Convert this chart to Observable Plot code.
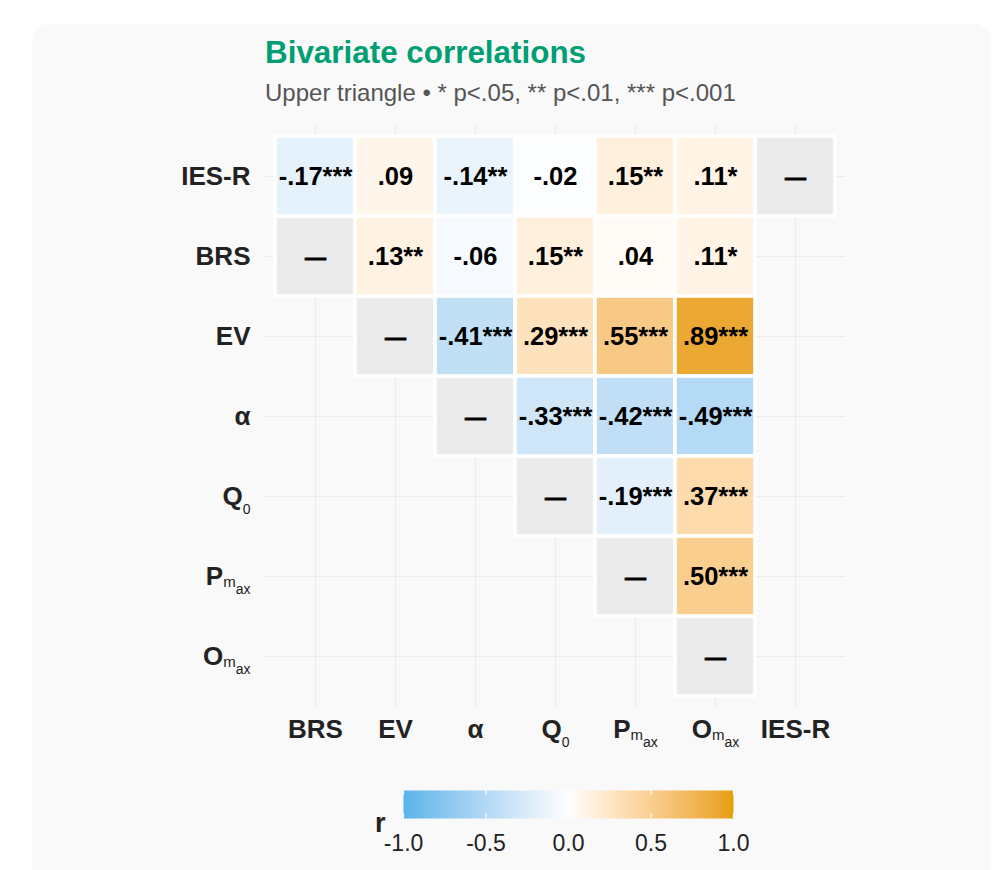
<!DOCTYPE html>
<html><head><meta charset="utf-8">
<script src="https://cdn.jsdelivr.net/npm/d3@7"></script>
<script src="https://cdn.jsdelivr.net/npm/@observablehq/plot@0.6"></script>
<style>
html,body{margin:0;padding:0;background:#fff;width:993px;height:870px;overflow:hidden;font-family:"Liberation Sans",Arial,Helvetica,sans-serif;}
#card{position:absolute;left:32px;top:24px;width:959px;height:900px;background:#f9f9f9;border-radius:16px;}
#title{position:absolute;left:265px;top:36.5px;font-size:31.4px;line-height:31.4px;font-weight:bold;color:#009E73;white-space:nowrap;}
#subtitle{position:absolute;left:265px;top:81px;font-size:24px;line-height:24px;color:#555;white-space:nowrap;}
#main{position:absolute;left:0;top:115px;width:993px;}
#legend{position:absolute;left:0;top:770px;width:993px;}
#rlab{position:absolute;left:375px;top:810px;font-size:27px;line-height:27px;font-weight:bold;color:#222;}
svg{overflow:visible;}
</style></head><body>
<div id="card"></div>
<div id="title">Bivariate correlations</div>
<div id="subtitle">Upper triangle • * p&lt;.05, ** p&lt;.01, *** p&lt;.001</div>
<div id="main"></div>
<div id="legend"></div>
<div id="rlab">r</div>
<script>
// ---- data ----
const xVars = ["BRS", "EV", "α", "Q0", "Pmax", "Omax", "IES-R"];
const yVars = ["IES-R", "BRS", "EV", "α", "Q0", "Pmax", "Omax"];
const diagVars = ["IES-R", "BRS", "EV", "α", "Q0", "Pmax", "Omax"];
const pairRow = [
  "IES-R", "IES-R", "IES-R", "IES-R", "IES-R", "IES-R",
  "BRS", "BRS", "BRS", "BRS", "BRS",
  "EV", "EV", "EV", "EV",
  "α", "α", "α",
  "Q0", "Q0",
  "Pmax"
];
const pairCol = [
  "BRS", "EV", "α", "Q0", "Pmax", "Omax",
  "EV", "α", "Q0", "Pmax", "Omax",
  "α", "Q0", "Pmax", "Omax",
  "Q0", "Pmax", "Omax",
  "Pmax", "Omax",
  "Omax"
];
const pairR = [
  -0.17, 0.09, -0.14, -0.02, 0.15, 0.11,
  0.13, -0.06, 0.15, 0.04, 0.11,
  -0.41, 0.29, 0.55, 0.89,
  -0.33, -0.42, -0.49,
  -0.19, 0.37,
  0.50
];
const pairStars = [
  "***", "", "**", "", "**", "*",
  "**", "", "**", "", "*",
  "***", "***", "***", "***",
  "***", "***", "***",
  "***", "***",
  "***"
];
const legendTicks = [-1, -0.5, 0, 0.5, 1];
const colorStops = ["#56B4E9", "#FFFFFF", "#E69F00"];

const pairs = pairR.map((r, i) => ({row: pairRow[i], col: pairCol[i], r, stars: pairStars[i]}));
const fmt = r => (r < 0 ? "-" : "") + Math.abs(r).toFixed(2).replace(/^0/, "");
const font = "'Liberation Sans', Arial, Helvetica, sans-serif";
const colorScale = {type: "linear", domain: [-1, 0, 1], range: colorStops, interpolate: "lab"};

const main = Plot.plot({
  width: 993, height: 650,
  marginLeft: 264.5, marginRight: 147.6, marginTop: 10.5, marginBottom: 58.5,
  style: {background: "transparent", fontFamily: font, overflow: "visible"},
  x: {domain: xVars, padding: 0, inset: 8, label: null},
  y: {domain: yVars, padding: 0, inset: 8, label: null},
  color: colorScale,
  marks: [
    Plot.gridX(xVars, {stroke: "#ebebeb", strokeOpacity: 1, strokeWidth: 1.1}),
    Plot.gridY(yVars, {stroke: "#ebebeb", strokeOpacity: 1, strokeWidth: 1.1}),
    Plot.cell(diagVars, {x: d => d, y: d => d, fill: "#EBEBEB", stroke: "white", strokeWidth: 3.6, inset: 0}),
    Plot.cell(pairs, {x: "col", y: "row", fill: "r", stroke: "white", strokeWidth: 3.6, inset: 0}),
    Plot.text(pairs, {x: "col", y: "row", text: d => fmt(d.r) + d.stars, fontSize: 25.5, fontWeight: "bold", fill: "black"}),
    Plot.text(diagVars, {x: d => d, y: d => d, text: () => "—", fontSize: 21, fontWeight: "bold", fill: "black", stroke: "black", strokeWidth: 0.9, dy: 1})
    ,
    Plot.axisX({tickSize: 0, tickPadding: 12.6, fontSize: 26, fontWeight: "bold", fill: "#222", label: null}),
    Plot.axisY({tickSize: 0, tickPadding: 14.5, fontSize: 26, fontWeight: "bold", fill: "#222", label: null})
  ]
});

// subscripted labels
const subs = {
  "Q0": [["Q"], ["0", 14, 9]],
  "Pmax": [["P"], ["m", 15, 2], ["ax", 14, 7]],
  "Omax": [["O"], ["m", 15, 2], ["ax", 14, 7]]
};
main.querySelectorAll("text").forEach(t => {
  const key = t.textContent;
  if (subs[key] && t.closest("g[aria-label$='tick label']")) {
    t.textContent = "";
    subs[key].forEach(([s, fs, dy]) => {
      const ts = document.createElementNS("http://www.w3.org/2000/svg", "tspan");
      ts.textContent = s;
      if (fs) {
        ts.setAttribute("font-size", fs);
        ts.setAttribute("font-weight", "normal");
        ts.setAttribute("dy", dy);
      }
      t.appendChild(ts);
    });
  }
});
document.getElementById("main").appendChild(main);

const legend = Plot.plot({
  width: 993, height: 100,
  marginLeft: 403, marginRight: 260, marginTop: 20, marginBottom: 52,
  style: {background: "transparent", fontFamily: font, overflow: "visible"},
  x: {domain: [-1, 1], label: null},
  y: {domain: [0, 1], axis: null},
  color: colorScale,
  marks: [
    Plot.raster({x1: -1, x2: 1, y1: 0, y2: 1, width: 330, height: 1, fill: (x, y) => x, imageRendering: "auto"}),
    Plot.ruleX(legendTicks, {y1: 0, y2: 0.18, stroke: "white", strokeWidth: 1.2}),
    Plot.ruleX(legendTicks, {y1: 0.82, y2: 1, stroke: "white", strokeWidth: 1.2}),
    Plot.axisX(legendTicks, {tickSize: 0, tickPadding: 15.7, fontSize: 23, fill: "#222", fontWeight: "normal", tickFormat: d => d.toFixed(1), label: null})
  ]
});
document.getElementById("legend").appendChild(legend);
</script>
</body></html>
